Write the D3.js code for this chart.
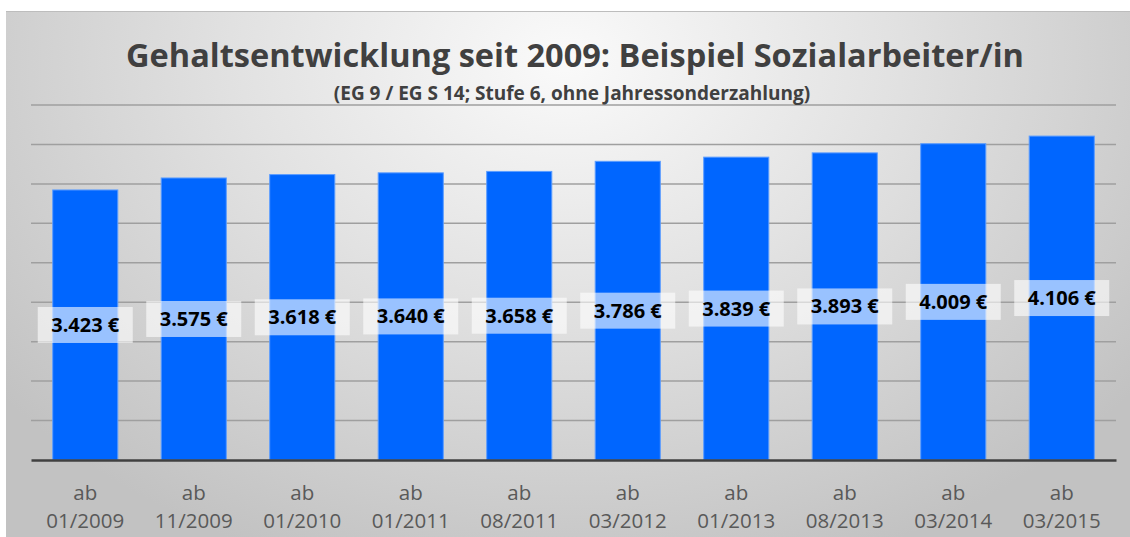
<!DOCTYPE html>
<html>
<head>
<meta charset="utf-8">
<script src="https://cdn.jsdelivr.net/npm/d3@7"></script>
<style>
  body { margin: 0; background: #fff; }
  svg { display: block; }
</style>
</head>
<body>
<div id="wrapper"></div>
<script>
// Data
const categories = ['01/2009', '11/2009', '01/2010', '01/2011', '08/2011', '03/2012', '01/2013', '08/2013', '03/2014', '03/2015'];
const salaries = [3423, 3575, 3618, 3640, 3658, 3786, 3839, 3893, 4009, 4106];
const gridValues = [500, 1000, 1500, 2000, 2500, 3000, 3500, 4000, 4500];
const title = 'Gehaltsentwicklung seit 2009: Beispiel Sozialarbeiter/in';
const subtitle = '(EG 9 / EG S 14; Stufe 6, ohne Jahressonderzahlung)';

const dataset = categories.map((c, i) => ({ cat: c, value: salaries[i] }));
const xAccessor = (d) => d.cat;
const yAccessor = (d) => d.value;

const dimensions = {
  width: 1130,
  height: 537,
  margin: { top: 105, right: 14, bottom: 77, left: 31 },
};
dimensions.boundedWidth = dimensions.width - dimensions.margin.left - dimensions.margin.right;
dimensions.boundedHeight = dimensions.height - dimensions.margin.top - dimensions.margin.bottom;

const font = '"Open Sans", "Noto Sans", sans-serif';

// Scales
const xScale = d3.scaleBand()
  .domain(categories)
  .range([0, dimensions.boundedWidth])
  .paddingInner(0.4)
  .paddingOuter(0.2);

const yScale = d3.scaleLinear()
  .domain([0, 4500])
  .range([dimensions.boundedHeight, 0]);

// Canvas
const wrapper = d3.select('#wrapper')
  .append('svg')
  .attr('width', dimensions.width)
  .attr('height', dimensions.height);

const defs = wrapper.append('defs');
const grad = defs.append('radialGradient')
  .attr('id', 'bg')
  .attr('gradientUnits', 'userSpaceOnUse')
  .attr('cx', 565).attr('cy', 60)
  .attr('r', 720)
  .attr('gradientTransform', 'translate(565 60) scale(1 0.75) translate(-565 -60)');
grad.append('stop').attr('offset', '0%').attr('stop-color', '#fafafa');
grad.append('stop').attr('offset', '45%').attr('stop-color', '#e2e2e2');
grad.append('stop').attr('offset', '100%').attr('stop-color', '#c2c2c2');

wrapper.append('rect')
  .attr('x', 6).attr('y', 11)
  .attr('width', dimensions.width - 6)
  .attr('height', dimensions.height - 11)
  .attr('fill', 'url(#bg)');
wrapper.append('line')
  .attr('x1', 6).attr('x2', dimensions.width)
  .attr('y1', 11.5).attr('y2', 11.5)
  .attr('stroke', '#bdbdbd').attr('stroke-width', 1);

const bounds = wrapper.append('g')
  .attr('transform', `translate(${dimensions.margin.left}, ${dimensions.margin.top})`);

// Gridlines
bounds.append('g')
  .selectAll('line')
  .data(gridValues)
  .join('line')
  .attr('x1', 0).attr('x2', dimensions.boundedWidth)
  .attr('y1', (d) => yScale(d)).attr('y2', (d) => yScale(d))
  .attr('stroke', '#9f9f9f')
  .attr('stroke-width', 1.5);

// Bars
bounds.append('g')
  .selectAll('rect')
  .data(dataset)
  .join('rect')
  .attr('x', (d) => xScale(xAccessor(d)))
  .attr('y', (d) => yScale(yAccessor(d)))
  .attr('width', xScale.bandwidth())
  .attr('height', (d) => yScale(0) - yScale(yAccessor(d)))
  .attr('fill', '#0066ff')
  .attr('stroke', '#5c9dff')
  .attr('stroke-width', 1);

// Baseline
const xAxis = d3.axisBottom(xScale).tickSize(0).tickFormat('');
const xAxisGroup = bounds.append('g')
  .attr('transform', `translate(0, ${dimensions.boundedHeight})`)
  .call(xAxis);
xAxisGroup.select('.domain')
  .attr('stroke', '#404040')
  .attr('stroke-width', 2.5);

// Category labels
const catLabels = xAxisGroup.selectAll('.tick')
  .append('text')
  .attr('fill', '#595959')
  .style('font-family', font)
  .style('font-size', '20.5px')
  .attr('text-anchor', 'middle');
catLabels.append('tspan').attr('x', 0).attr('y', 40).text('ab');
catLabels.append('tspan').attr('x', 0).attr('y', 68).text((d) => d);

// Value labels
const labels = bounds.append('g')
  .selectAll('g')
  .data(dataset)
  .join('g')
  .attr('transform', (d) => `translate(${xScale(xAccessor(d)) + xScale.bandwidth() / 2}, ${(yScale(yAccessor(d)) + yScale(0)) / 2})`);

labels.append('rect')
  .attr('x', -47.5).attr('y', -18)
  .attr('width', 95).attr('height', 36)
  .attr('fill', '#ffffff')
  .attr('fill-opacity', 0.6);

labels.append('text')
  .attr('text-anchor', 'middle')
  .attr('dy', '0.35em')
  .attr('fill', '#000')
  .style('font-family', font)
  .style('font-weight', 'bold')
  .style('font-size', '20px')
  .text((d) => d3.format(',')(yAccessor(d)).replace(',', '.') + ' €');

// Title
wrapper.append('text')
  .attr('x', 575).attr('y', 67)
  .attr('text-anchor', 'middle')
  .attr('fill', '#404040')
  .style('font-family', font)
  .style('font-weight', 'bold')
  .style('font-size', '32.5px')
  .text(title);

wrapper.append('text')
  .attr('x', 572).attr('y', 100)
  .attr('text-anchor', 'middle')
  .attr('fill', '#404040')
  .style('font-family', font)
  .style('font-weight', 'bold')
  .style('font-size', '19px')
  .text(subtitle);
</script>
</body>
</html>
